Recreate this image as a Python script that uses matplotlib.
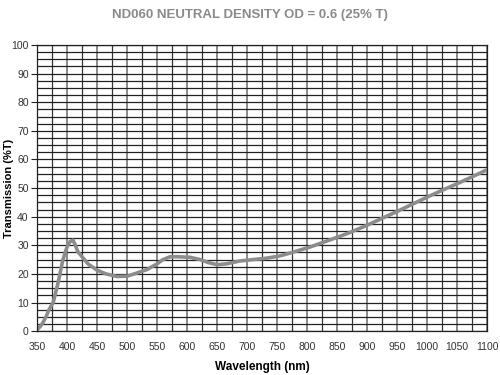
import matplotlib
matplotlib.use('Agg')
import matplotlib.pyplot as plt
from matplotlib import font_manager
from matplotlib.ticker import MultipleLocator

# Transmission curve
wavelength = [350, 355, 360, 365, 370, 377, 385, 393, 400, 405, 410, 414, 418, 425, 435,
              450, 465, 483, 500, 515, 533, 550, 560, 572, 585, 605, 622, 635, 650, 665,
              688, 710, 733, 755, 772, 805, 840, 872, 900, 925, 950, 975, 1000, 1025,
              1050, 1075, 1100]
transmission = [0.5, 1.5, 3.0, 5.0, 7.5, 10.0, 16.8, 24.8, 29.4, 31.3, 31.8, 30.0, 27.8, 26.0, 23.5,
                21.3, 20.0, 19.1, 19.2, 20.2, 21.5, 23.5, 25.0, 26.0, 26.0, 25.8, 25.0, 24.0, 23.2, 23.5,
                24.5, 25.0, 25.5, 26.3, 27.3, 29.4, 32.0, 34.5, 37.0, 39.4, 41.8, 44.3, 46.8, 49.2,
                51.5, 53.9, 56.4]

# narrow Arial-like face if there is one
installed = {f.name for f in font_manager.fontManager.ttflist}
family = 'Liberation Sans'
for name in ['Liberation Sans Narrow', 'DejaVu Sans Condensed', 'Arial Narrow']:
    if name in installed:
        family = name
        break
plt.rcParams['font.family'] = [family, 'DejaVu Sans']

fig = plt.figure(figsize=(5, 3.75), dpi=100)
ax = fig.add_axes([0.074, 0.117, 0.90, 0.763])

# grid: horizontal every 2.5 %, vertical every 25 nm (50 nm lines lighter)
ax.xaxis.set_major_locator(MultipleLocator(50))
ax.xaxis.set_minor_locator(MultipleLocator(25))
ax.yaxis.set_major_locator(MultipleLocator(10))
ax.yaxis.set_minor_locator(MultipleLocator(2.5))
ax.grid(which='major', axis='x', color='#8a8a8a', linewidth=1.4)
ax.grid(which='minor', axis='x', color='#333333', linewidth=0.9)
ax.grid(which='both', axis='y', color='#222222', linewidth=0.9)
ax.set_axisbelow(True)

ax.plot(wavelength, transmission, color='#8c8c8c', linewidth=2.6,
        solid_capstyle='round', solid_joinstyle='round')

ax.set_xlim(350, 1100)
ax.set_ylim(0, 100)
for s in ax.spines.values():
    s.set_color('#222222')
    s.set_linewidth(0.9)

ax.tick_params(which='minor', length=0)
ax.tick_params(which='major', axis='x', length=0, pad=8, labelsize=7.5, labelcolor='#333333')
ax.tick_params(which='major', axis='y', length=4, pad=2, color='#222222', labelsize=7.5,
               labelcolor='#333333')

ax.set_xlabel('Wavelength (nm)', fontsize=8.5, fontweight='bold', labelpad=6)
ax.set_ylabel('Transmission (%T)', fontsize=8, fontweight='bold')
ax.yaxis.set_label_coords(-0.05, 0.5)
fig.suptitle('ND060 NEUTRAL DENSITY OD = 0.6 (25% T)', x=0.5, y=0.975,
             fontsize=9.5, fontweight='bold', color='#8a8a8a')

fig.savefig('out.png', dpi=100)
